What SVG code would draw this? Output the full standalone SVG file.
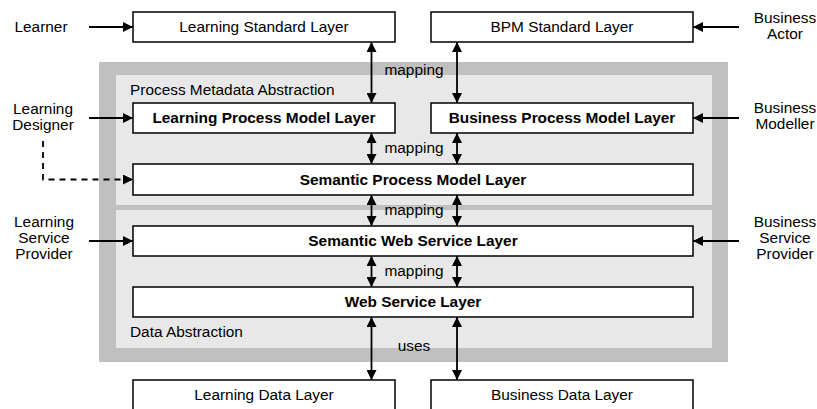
<svg xmlns="http://www.w3.org/2000/svg" width="817" height="409" viewBox="0 0 817 409">
<defs>
<style>
text{font-family:"Liberation Sans",Arial,sans-serif;font-size:15.4px;fill:#000}
.b{font-weight:bold}
.m{text-anchor:middle}
.box{fill:#fff;stroke:#000;stroke-width:1.5}
.ln{stroke:#000;stroke-width:1.8;fill:none}
.dash{stroke-dasharray:6,5}
</style>
<marker id="ah" viewBox="0 0 10 10" refX="10" refY="5" markerWidth="11" markerHeight="10" orient="auto-start-reverse" markerUnits="userSpaceOnUse">
<path d="M0,0 L10,5 L0,10 z" fill="#000"/>
</marker>
</defs>
<rect width="817" height="409" fill="#fff"/>
<g id="containers">
<rect x="99" y="62" width="629" height="300" fill="#c0c0c0"/>
<rect x="116" y="75" width="596" height="130" fill="#e8e8e8"/>
<rect x="116" y="210" width="596" height="138" fill="#e8e8e8"/>
<text x="130" y="95">Process Metadata Abstraction</text>
<text x="130" y="337">Data Abstraction</text>
</g>
<g id="connectors">
<line class="ln" x1="89" y1="27" x2="133" y2="27" marker-end="url(#ah)"/>
<line class="ln" x1="89" y1="118" x2="133" y2="118" marker-end="url(#ah)"/>
<polyline class="ln dash" points="43,141 43,179.5 133,179.5" marker-end="url(#ah)"/>
<line class="ln" x1="89" y1="241" x2="133" y2="241" marker-end="url(#ah)"/>
<line class="ln" x1="739" y1="27" x2="693" y2="27" marker-end="url(#ah)"/>
<line class="ln" x1="739" y1="118" x2="693" y2="118" marker-end="url(#ah)"/>
<line class="ln" x1="739" y1="241" x2="693" y2="241" marker-end="url(#ah)"/>
<line class="ln" x1="371.5" y1="42" x2="371.5" y2="103" marker-start="url(#ah)" marker-end="url(#ah)"/>
<line class="ln" x1="457" y1="42" x2="457" y2="103" marker-start="url(#ah)" marker-end="url(#ah)"/>
<line class="ln" x1="371.5" y1="133" x2="371.5" y2="164" marker-start="url(#ah)" marker-end="url(#ah)"/>
<line class="ln" x1="457" y1="133" x2="457" y2="164" marker-start="url(#ah)" marker-end="url(#ah)"/>
<line class="ln" x1="371.5" y1="195" x2="371.5" y2="226" marker-start="url(#ah)" marker-end="url(#ah)"/>
<line class="ln" x1="457" y1="195" x2="457" y2="226" marker-start="url(#ah)" marker-end="url(#ah)"/>
<line class="ln" x1="371.5" y1="256" x2="371.5" y2="287" marker-start="url(#ah)" marker-end="url(#ah)"/>
<line class="ln" x1="457" y1="256" x2="457" y2="287" marker-start="url(#ah)" marker-end="url(#ah)"/>
<line class="ln" x1="371.5" y1="317" x2="371.5" y2="380" marker-start="url(#ah)" marker-end="url(#ah)"/>
<line class="ln" x1="457" y1="317" x2="457" y2="380" marker-start="url(#ah)" marker-end="url(#ah)"/>
<text class="m" x="414" y="75">mapping</text>
<text class="m" x="414" y="153">mapping</text>
<text class="m" x="414" y="215">mapping</text>
<text class="m" x="414" y="276">mapping</text>
<text class="m" x="414" y="351">uses</text>
</g>
<g id="learner"><text class="m" x="41" y="32">Learner</text></g>
<g id="learning-designer"><text class="m" x="43" y="114">Learning</text><text class="m" x="43" y="130">Designer</text></g>
<g id="learning-service-provider"><text class="m" x="44" y="227">Learning</text><text class="m" x="44" y="243">Service</text><text class="m" x="44" y="259">Provider</text></g>
<g id="business-actor"><text class="m" x="785" y="23">Business</text><text class="m" x="785" y="39">Actor</text></g>
<g id="business-modeller"><text class="m" x="785" y="113">Business</text><text class="m" x="785" y="129">Modeller</text></g>
<g id="business-service-provider"><text class="m" x="785" y="227">Business</text><text class="m" x="785" y="243">Service</text><text class="m" x="785" y="259">Provider</text></g>
<g id="learning-standard-layer"><rect class="box" x="133" y="12" width="262" height="30"/><text class="m" x="264" y="32">Learning Standard Layer</text></g>
<g id="bpm-standard-layer"><rect class="box" x="431" y="12" width="262" height="30"/><text class="m" x="562" y="32">BPM Standard Layer</text></g>
<g id="learning-process-model-layer"><rect class="box" x="133" y="103" width="262" height="30"/><text class="m b" x="264" y="123">Learning Process Model Layer</text></g>
<g id="business-process-model-layer"><rect class="box" x="431" y="103" width="262" height="30"/><text class="m b" x="562" y="123">Business Process Model Layer</text></g>
<g id="semantic-process-model-layer"><rect class="box" x="133" y="164" width="560" height="31"/><text class="m b" x="413" y="185">Semantic Process Model Layer</text></g>
<g id="semantic-web-service-layer"><rect class="box" x="133" y="226" width="560" height="30"/><text class="m b" x="413" y="246">Semantic Web Service Layer</text></g>
<g id="web-service-layer"><rect class="box" x="133" y="287" width="560" height="30"/><text class="m b" x="413" y="307">Web Service Layer</text></g>
<g id="learning-data-layer"><rect class="box" x="133" y="380" width="262" height="30"/><text class="m" x="264" y="400">Learning Data Layer</text></g>
<g id="business-data-layer"><rect class="box" x="431" y="380" width="262" height="30"/><text class="m" x="562" y="400">Business Data Layer</text></g>
</svg>
